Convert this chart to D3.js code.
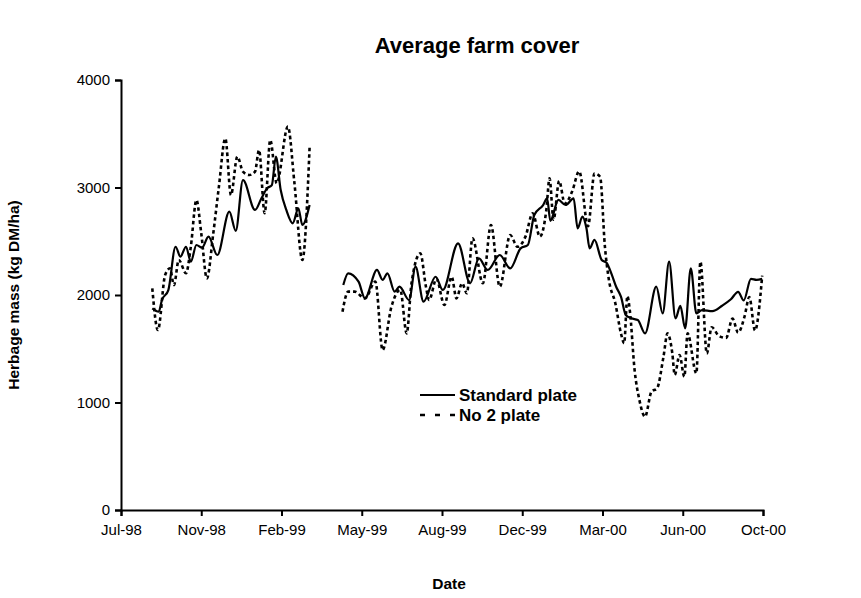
<!DOCTYPE html>
<html>
<head>
<meta charset="utf-8">
<script src="https://cdn.jsdelivr.net/npm/d3@7"></script>
<style>
  body { margin: 0; background: #fff; }
  text { font-family: Arial, "Liberation Sans", sans-serif; fill: #000; }
</style>
</head>
<body>
<svg id="chart" width="861" height="598"></svg>
<script>
// Dates are spreadsheet serial day numbers (days since 1899-12-30).
const xTickSerials = [36000, 36100, 36200, 36300, 36400, 36500, 36600, 36700, 36800];
const yTicks = [0, 1000, 2000, 3000, 4000];

// Standard plate readings (null marks the break in measurements)
const stdSerials = [36039, 36047, 36051, 36059, 36068, 36074, 36081, 36087, 36094, 36101, 36109, 36120,
  36135, 36143, 36152, 36167, 36175, 36182, 36188, 36193, 36199, 36206, 36214, 36221, 36226, 36235,
  36255,
  36277, 36283, 36296, 36304, 36319, 36326, 36332, 36341, 36347, 36359, 36367, 36377, 36392, 36401,
  36420, 36435, 36446, 36457, 36472, 36485, 36498, 36507, 36515, 36526, 36531, 36535, 36545, 36554,
  36564, 36569, 36575, 36580, 36584, 36590, 36599, 36605, 36612, 36617, 36623, 36629, 36636, 36644,
  36653, 36667, 36675, 36683, 36691, 36697, 36703, 36710, 36717, 36724, 36737, 36749, 36760, 36769,
  36776, 36785, 36792, 36799];
const stdValues = [1876, 1845, 1953, 2046, 2449, 2357, 2449, 2310, 2465, 2440, 2543, 2372,
  2775, 2597, 3070, 2791, 2900, 2992, 3023, 3287, 2977, 2791, 2667, 2806, 2651, 2837,
  null,
  2093, 2202, 2124, 1969, 2233, 2140, 2202, 2031, 2077, 1953, 2264, 1938, 2170, 2047,
  2481, 2109, 2341, 2233, 2372, 2248, 2434, 2465, 2744, 2837, 2899, 2690, 2884, 2837,
  2899, 2620, 2729, 2620, 2434, 2512, 2326, 2300, 2180, 2077, 1984, 1814, 1783, 1767,
  1643, 2077, 1829, 2310, 1783, 1898, 1690, 2248, 1829, 1860, 1850, 1900, 1960, 2030,
  1950, 2150, 2140, 2150];

// No 2 plate readings
const no2Serials = [36039, 36046, 36055, 36061, 36066, 36072, 36081, 36087, 36094, 36100, 36107, 36115,
  36122, 36130, 36137, 36145, 36152, 36160, 36167, 36172, 36179, 36186, 36194, 36208, 36216, 36226,
  36235,
  36255,
  36276, 36283, 36291, 36304, 36317, 36326, 36337, 36348, 36356, 36362, 36373, 36380, 36384, 36393,
  36403, 36412, 36418, 36425, 36431, 36438, 36451, 36461, 36472, 36485, 36494, 36504, 36513, 36522,
  36530, 36534, 36539, 36546, 36553, 36562, 36571, 36582, 36590, 36597, 36603, 36608, 36616, 36623,
  36627, 36631, 36634, 36640, 36646, 36653, 36661, 36668, 36676, 36681, 36687, 36690, 36696, 36702,
  36706, 36717, 36722, 36730, 36736, 36745, 36754, 36762, 36769, 36777, 36783, 36790, 36799];
const no2Values = [2062, 1674, 2186, 2248, 2093, 2326, 2202, 2449, 2884, 2574, 2155, 2574,
  3008, 3457, 2930, 3287, 3147, 3116, 3147, 3349, 2760, 3442, 3039, 3566, 3050, 2326,
  3372,
  null,
  1845, 2031, 2031, 1969, 2124, 1488, 1891, 2047, 1643, 2109, 2388, 2077, 1953, 2150,
  1907, 2170, 1969, 2109, 2016, 2527, 2109, 2651, 2077, 2558, 2449, 2543, 2760, 2543,
  2791, 3085, 2700, 3060, 2850, 2960, 3150, 2640, 3130, 3100, 2450, 2140, 1923, 1643,
  1550, 1990, 1860, 1302, 1023, 868, 1101, 1132, 1426, 1643, 1457, 1256, 1442, 1240,
  1643, 1271, 2310, 1457, 1700, 1620, 1600, 1780, 1650, 1800, 1980, 1670, 2180];

const seriesNames = ["Standard plate", "No 2 plate"];

const serialToDate = s => new Date(Date.UTC(1899, 11, 30) + s * 86400000);

const margin = { left: 121, right: 98, top: 80, bottom: 88 };
const W = 861, H = 598;

const svg = d3.select("#chart");

const x = d3.scaleUtc()
  .domain([serialToDate(36000), serialToDate(36800)])
  .range([margin.left, W - margin.right]);
const y = d3.scaleLinear()
  .domain([0, 4000])
  .range([H - margin.bottom, margin.top]);

// Axes
const xAxis = d3.axisBottom(x)
  .tickValues(xTickSerials.map(serialToDate))
  .tickFormat(d3.utcFormat("%b-%y"))
  .tickSize(6).tickPadding(8);
const yAxis = d3.axisLeft(y)
  .tickValues(yTicks)
  .tickFormat(d3.format("d"))
  .tickSize(6).tickPadding(5);

const gx = svg.append("g").attr("transform", `translate(0,${H - margin.bottom})`).call(xAxis);
const gy = svg.append("g").attr("transform", `translate(${margin.left},0)`).call(yAxis);
[gx, gy].forEach(g => {
  g.select(".domain").attr("stroke", "#000").attr("stroke-width", 2);
  g.selectAll(".tick line").attr("stroke", "#000").attr("stroke-width", 2);
  g.selectAll(".tick text").attr("font-size", 15).attr("font-family", "Arial, 'Liberation Sans', sans-serif").attr("fill", "#000");
});

// Lines
const toPoints = (ss, vs) => ss.map((s, i) => ({ d: serialToDate(s), v: vs[i] }));
const line = d3.line()
  .defined(p => p.v != null)
  .x(p => x(p.d))
  .y(p => y(p.v))
  .curve(d3.curveMonotoneX);

svg.append("path")
  .datum(toPoints(no2Serials, no2Values))
  .attr("fill", "none")
  .attr("stroke", "#000")
  .attr("stroke-width", 2.6)
  .attr("stroke-dasharray", "3.5,3")
  .attr("d", line);

svg.append("path")
  .datum(toPoints(stdSerials, stdValues))
  .attr("fill", "none")
  .attr("stroke", "#000")
  .attr("stroke-width", 2.2)
  .attr("d", line);

// Titles
svg.append("text")
  .attr("x", 477).attr("y", 53)
  .attr("text-anchor", "middle")
  .attr("font-size", 22).attr("font-weight", "bold")
  .text("Average farm cover");

svg.append("text")
  .attr("x", 449).attr("y", 589)
  .attr("text-anchor", "middle")
  .attr("font-size", 15.5).attr("font-weight", "bold")
  .text("Date");

svg.append("text")
  .attr("transform", "translate(19,295) rotate(-90)")
  .attr("text-anchor", "middle")
  .attr("font-size", 15.5).attr("font-weight", "bold")
  .text("Herbage mass (kg DM/ha)");

// Legend
const legend = svg.append("g");
const legendRows = [
  { name: seriesNames[0], dash: null, y: 395 },
  { name: seriesNames[1], dash: "5,10", y: 415 }
];
legendRows.forEach(r => {
  legend.append("line")
    .attr("x1", 420).attr("x2", 455).attr("y1", r.y).attr("y2", r.y)
    .attr("stroke", "#000").attr("stroke-width", r.dash ? 2.6 : 2.2)
    .attr("stroke-dasharray", r.dash);
  legend.append("text")
    .attr("x", 459).attr("y", r.y + 5.5)
    .attr("font-size", 17).attr("font-weight", "bold")
    .text(r.name);
});
</script>
</body>
</html>
